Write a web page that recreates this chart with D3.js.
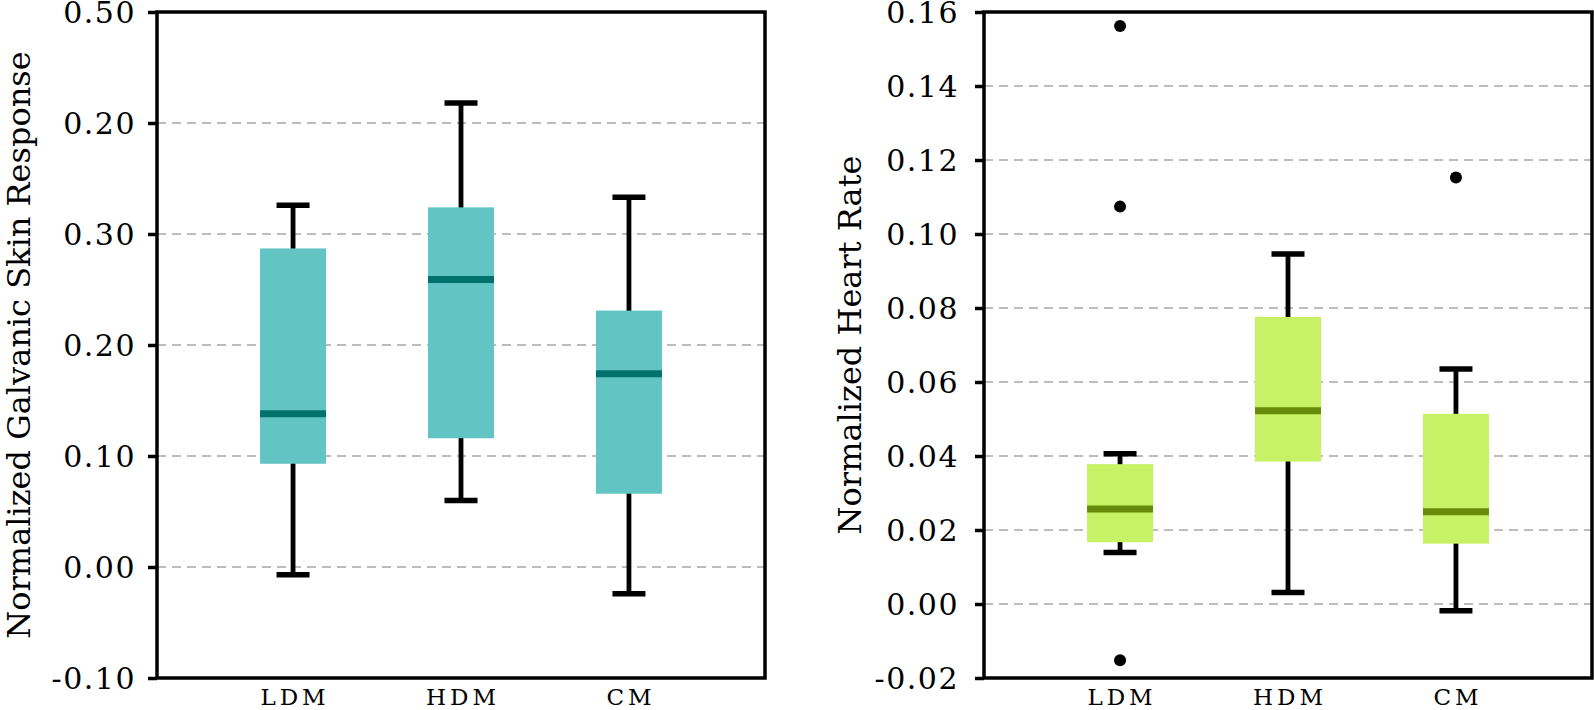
<!DOCTYPE html>
<html>
<head>
<meta charset="utf-8">
<script src="https://cdn.jsdelivr.net/npm/d3@7"></script>
<style>
    body { margin: 0; background: #fff; }
    svg { display: block; font-family: "DejaVu Serif", serif; }
</style>
</head>
<body>
<div id="chart"></div>
<script>
// categories shared by both panels
const categories = ["LDM", "HDM", "CM"];

// Galvanic skin response boxes
const gsrLow = [-0.007, 0.060, -0.024];
const gsrQ1 = [0.093, 0.116, 0.066];
const gsrMedian = [0.138, 0.259, 0.174];
const gsrQ3 = [0.287, 0.324, 0.231];
const gsrHigh = [0.326, 0.418, 0.333];
const gsrOutliers = [[], [], []];
const gsrTickValues = [-0.1, 0, 0.1, 0.2, 0.3, 0.4, 0.5];
const gsrTickLabels = ["-0.10", "0.00", "0.10", "0.20", "0.30", "0.20", "0.50"];

// Heart rate boxes
const hrLow = [0.0139, 0.0031, -0.0018];
const hrQ1 = [0.0167, 0.0385, 0.0163];
const hrMedian = [0.0257, 0.0522, 0.0249];
const hrQ3 = [0.0378, 0.0776, 0.0514];
const hrHigh = [0.0406, 0.0946, 0.0635];
const hrOutliers = [[0.1562, 0.1074, -0.0152], [], [0.1153]];
const hrTickValues = [-0.02, 0, 0.02, 0.04, 0.06, 0.08, 0.10, 0.12, 0.14, 0.16];
const hrTickLabels = ["-0.02", "0.00", "0.02", "0.04", "0.06", "0.08", "0.10", "0.12", "0.14", "0.16"];

const width = 1594, height = 710;

const svg = d3.select("#chart")
    .append("svg")
    .attr("width", width)
    .attr("height", height);

function drawPanel(p) {
    const top = 12, bottom = 678;
    const g = svg.append("g");

    const y = d3.scaleLinear().domain(p.domain).range([bottom, top]);
    const x = d3.scalePoint().domain(categories).range([p.left, p.right]).padding(0.81);

    // dashed grid lines (not on the frame edges)
    g.selectAll(".grid")
        .data(p.tickValues.slice(1, -1))
        .enter()
        .append("line")
        .attr("x1", p.left).attr("x2", p.right)
        .attr("y1", d => y(d)).attr("y2", d => y(d))
        .attr("stroke", "#a8a8a8")
        .attr("stroke-width", 1.6)
        .attr("stroke-dasharray", "9,6");

    const rows = categories.map((c, i) => ({
        cat: c, lo: p.low[i], q1: p.q1[i], med: p.median[i], q3: p.q3[i], hi: p.high[i], out: p.outliers[i]
    }));

    const boxW = 66, capW = 33;
    const box = g.selectAll(".box")
        .data(rows)
        .enter()
        .append("g");

    // whiskers
    box.append("line")
        .attr("x1", d => x(d.cat)).attr("x2", d => x(d.cat))
        .attr("y1", d => y(d.hi)).attr("y2", d => y(d.lo))
        .attr("stroke", "#000").attr("stroke-width", 4.8);
    box.selectAll(".cap")
        .data(d => [d.hi, d.lo].map(v => ({ cat: d.cat, v: v })))
        .enter()
        .append("line")
        .attr("x1", d => x(d.cat) - capW / 2).attr("x2", d => x(d.cat) + capW / 2)
        .attr("y1", d => y(d.v)).attr("y2", d => y(d.v))
        .attr("stroke", "#000").attr("stroke-width", 5.5);

    // box body
    box.append("rect")
        .attr("x", d => x(d.cat) - boxW / 2)
        .attr("width", boxW)
        .attr("y", d => y(d.q3))
        .attr("height", d => y(d.q1) - y(d.q3))
        .attr("fill", p.fill);

    // median
    box.append("line")
        .attr("x1", d => x(d.cat) - boxW / 2).attr("x2", d => x(d.cat) + boxW / 2)
        .attr("y1", d => y(d.med)).attr("y2", d => y(d.med))
        .attr("stroke", p.medianColor).attr("stroke-width", 7);

    // outliers
    box.selectAll(".out")
        .data(d => d.out.map(v => ({ cat: d.cat, v: v })))
        .enter()
        .append("circle")
        .attr("cx", d => x(d.cat))
        .attr("cy", d => y(d.v))
        .attr("r", 6)
        .attr("fill", "#000");

    // y axis
    const yAxis = d3.axisLeft(y)
        .tickValues(p.tickValues)
        .tickFormat((d, i) => p.tickLabels[i])
        .tickSize(9)
        .tickPadding(p.pad);
    const ya = g.append("g")
        .attr("transform", `translate(${p.left},0)`)
        .call(yAxis);
    ya.select(".domain").remove();
    ya.selectAll(".tick line").attr("stroke", "#000").attr("stroke-width", 3.5);
    ya.selectAll(".tick text")
        .attr("font-family", "DejaVu Serif")
        .attr("font-size", 30)
        .attr("letter-spacing", 1.5)
        .attr("fill", "#000")
        .attr("dy", "0.36em");

    // x labels
    g.selectAll(".xlab")
        .data(categories)
        .enter()
        .append("text")
        .attr("x", d => x(d) + 2)
        .attr("y", 705)
        .attr("text-anchor", "middle")
        .attr("font-size", 23)
        .attr("letter-spacing", 4)
        .text(d => d);

    // frame
    g.append("rect")
        .attr("x", p.left).attr("y", top)
        .attr("width", p.right - p.left)
        .attr("height", bottom - top)
        .attr("fill", "none")
        .attr("stroke", "#000")
        .attr("stroke-width", 3.5);

    // axis title
    g.append("text")
        .attr("transform", `translate(${p.titleX},${(top + bottom) / 2}) rotate(-90)`)
        .attr("text-anchor", "middle")
        .attr("font-size", 32)
        .attr("fill", "#000")
        .text(p.title);
}

drawPanel({
    left: 157, right: 765, domain: [-0.1, 0.5],
    low: gsrLow, q1: gsrQ1, median: gsrMedian, q3: gsrQ3, high: gsrHigh, outliers: gsrOutliers,
    tickValues: gsrTickValues, tickLabels: gsrTickLabels,
    fill: "#63c4c4", medianColor: "#00726e",
    title: "Normalized Galvanic Skin Response", titleX: 30, pad: 12
});

drawPanel({
    left: 984, right: 1592, domain: [-0.02, 0.16],
    low: hrLow, q1: hrQ1, median: hrMedian, q3: hrQ3, high: hrHigh, outliers: hrOutliers,
    tickValues: hrTickValues, tickLabels: hrTickLabels,
    fill: "#c8f266", medianColor: "#668b0a",
    title: "Normalized Heart Rate", titleX: 861, pad: 16
});
</script>
</body>
</html>
